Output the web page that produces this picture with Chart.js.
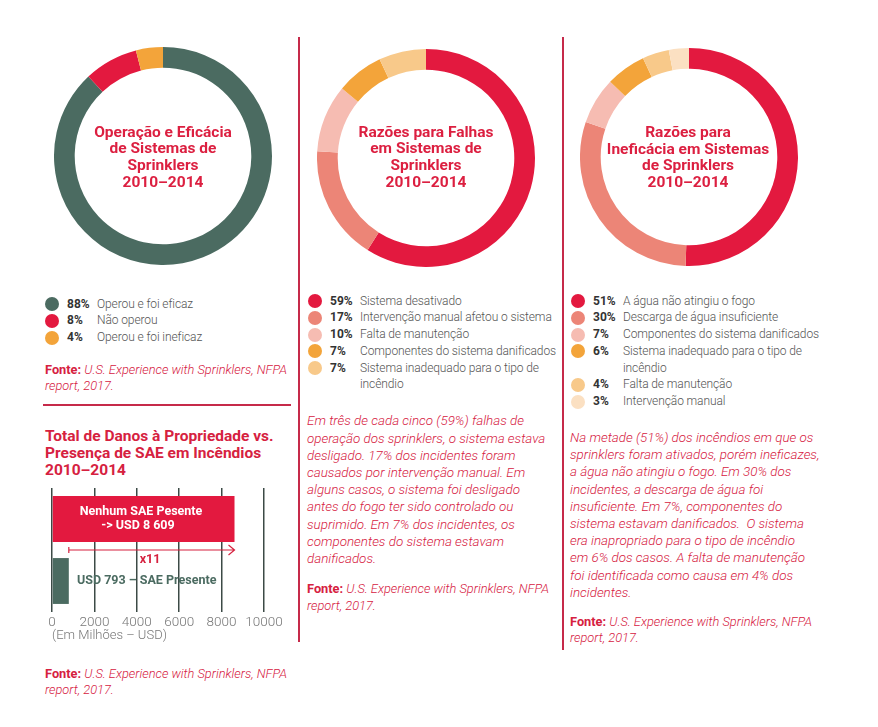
<!DOCTYPE html>
<html>
<head>
<meta charset="utf-8">
<script src="https://cdn.jsdelivr.net/npm/chart.js@4.4.1/dist/chart.umd.min.js"></script>
<style>
body{margin:0;background:#fff;width:878px;height:727px;position:relative;overflow:hidden;font-family:Roboto,"Liberation Sans",sans-serif;}
.t{position:absolute;white-space:nowrap}
.ctr{position:absolute;font-weight:700;color:#dc1f40;font-size:15.5px;line-height:16.7px;text-align:center;width:220px;}
.leg{position:absolute;font-size:12px;letter-spacing:-0.1px;color:#555;font-weight:300}
.row{display:flex;align-items:flex-start;line-height:16.8px}
.dot{width:14px;height:14px;border-radius:50%;margin-top:1.5px;flex:none}
.pct{font-weight:700;color:#333;width:30px;flex:none;letter-spacing:0}
.lab{max-width:205px;white-space:normal}
.para{position:absolute;color:#d6213f;font-style:italic;font-weight:300;font-size:13.4px;line-height:17.2px;white-space:nowrap}
.src{position:absolute;color:#d6213f;font-size:12.8px;line-height:16.5px;white-space:nowrap}
.src b{font-weight:700;font-style:normal}
.src i{font-weight:300}
.ln{position:absolute;background:#c62a4a}
.bl{position:absolute;white-space:nowrap;font-weight:700;font-size:12.5px;line-height:16px}
</style>
</head>
<body>

<div class="ln" style="left:298px;top:37px;width:1.5px;height:605px"></div>
<div class="ln" style="left:562px;top:37px;width:1.5px;height:613px"></div>
<div class="ln" style="left:43px;top:404px;width:248px;height:1.5px"></div>

<canvas id="d1" width="218" height="218" style="position:absolute;left:54px;top:47px"></canvas>
<canvas id="d2" width="218" height="218" style="position:absolute;left:317px;top:49px"></canvas>
<canvas id="d3" width="218" height="218" style="position:absolute;left:580px;top:48px"></canvas>

<div class="ctr" style="left:53px;top:123.6px">Operação e Eficácia<br>de Sistemas de<br>Sprinklers<br>2010–2014</div>
<div class="ctr" style="left:316px;top:123.6px">Razões para Falhas<br>em Sistemas de<br>Sprinklers<br>2010–2014</div>
<div class="ctr" style="left:578px;top:124px">Razões para<br>Ineficácia em Sistemas<br>de Sprinklers<br>2010–2014</div>

<div class="leg" id="l1" style="left:45px;top:295.5px"></div>
<div class="leg" id="l2" style="left:308px;top:292.5px"></div>
<div class="leg" id="l3" style="left:571px;top:292.5px"></div>

<div class="src" style="left:45px;top:361.5px"><b>Fonte:</b> <i>U.S. Experience with Sprinklers, NFPA<br>report, 2017.</i></div>
<div class="src" style="left:307px;top:581px"><b>Fonte:</b> <i>U.S. Experience with Sprinklers, NFPA<br>report, 2017.</i></div>
<div class="src" style="left:570px;top:613.5px"><b>Fonte:</b> <i>U.S. Experience with Sprinklers, NFPA<br>report, 2017.</i></div>
<div class="src" style="left:45px;top:665.5px"><b>Fonte:</b> <i>U.S. Experience with Sprinklers, NFPA<br>report, 2017.</i></div>

<div class="para" style="left:307px;top:412.4px">Em três de cada cinco (59%) falhas de<br>operação dos sprinklers, o sistema estava<br>desligado. 17% dos incidentes foram<br>causados por intervenção manual. Em<br>alguns casos, o sistema foi desligado<br>antes do fogo ter sido controlado ou<br>suprimido. Em 7% dos incidentes, os<br>componentes do sistema estavam<br>danificados.</div>
<div class="para" style="left:570px;top:429px">Na metade (51%) dos incêndios em que os<br>sprinklers foram ativados, porém ineficazes,<br>a água não atingiu o fogo. Em 30% dos<br>incidentes, a descarga de água foi<br>insuficiente. Em 7%, componentes do<br>sistema estavam danificados.&nbsp; O sistema<br>era inapropriado para o tipo de incêndio<br>em 6% dos casos. A falta de manutenção<br>foi identificada como causa em 4% dos<br>incidentes.</div>

<div class="t" style="left:45px;top:428px;color:#d6213f;font-weight:700;font-size:15.5px;line-height:17px">Total de Danos à Propriedade vs.<br>Presença de SAE em Incêndios<br>2010–2014</div>

<div style="position:absolute;left:30px;top:480px;width:259px;height:170px"><canvas id="bar" width="259" height="170"></canvas></div>

<div class="bl" style="left:141px;top:503px;transform:translateX(-50%);color:#fff">Nenhum SAE Pesente</div>
<div class="bl" style="left:138px;top:517px;transform:translateX(-50%);color:#fff">-&gt; USD 8 609</div>
<div class="bl" style="left:150px;top:551px;transform:translateX(-50%);color:#d6213f">x11</div>
<div class="bl" style="left:77px;top:572px;color:#4b6b61">USD 793 – SAE Presente</div>

<script>
// donut 1
var opLabels = ["Operou e foi eficaz", "Não operou", "Operou e foi ineficaz"];
var opValues = [88, 8, 4];
// donut 2
var failLabels = ["Sistema desativado", "Intervenção manual afetou o sistema", "Falta de manutenção", "Componentes do sistema danificados", "Sistema inadequado para o tipo de incêndio"];
var failValues = [59, 17, 10, 7, 7];
// donut 3
var ineffLabels = ["A água não atingiu o fogo", "Descarga de água insuficiente", "Componentes do sistema danificados", "Sistema inadequado para o tipo de incêndio", "Falta de manutenção", "Intervenção manual"];
var ineffValues = [51, 30, 7, 6, 4, 3];
// bar chart
var damageLabels = ["Nenhum SAE Presente", "SAE Presente"];
var damageValues = [8609, 793];
var damageTicks = [0, 2000, 4000, 6000, 8000, 10000];

var red = '#e3193f';
var opColors = ['#4b6b61', red, '#f3a43a'];
var failColors = [red, '#ec8577', '#f6bcb2', '#f3a43a', '#f8c98a'];
var ineffColors = [red, '#ec8577', '#f6bcb2', '#f3a43a', '#f8c98a', '#fbe0c2'];

function donut(id, labels, values, colors){
    new Chart(document.getElementById(id), {
        type: 'doughnut',
        data: {
            labels: labels,
            datasets: [{ data: values, backgroundColor: colors, borderWidth: 0, hoverOffset: 0 }]
        },
        options: {
            responsive: false,
            animation: false,
            cutout: '81%',
            events: [],
            plugins: { legend: { display: false }, tooltip: { enabled: false } }
        }
    });
}

function legend(id, labels, values, colors){
    var el = document.getElementById(id);
    var html = '';
    for (var i = 0; i < labels.length; i++) {
        html += '<div class="row"><span class="dot" style="background:' + colors[i] + '"></span>' +
            '<span style="width:8px;flex:none"></span>' +
            '<span class="pct">' + values[i] + '%</span><span class="lab">' + labels[i] + '</span></div>';
    }
    el.innerHTML = html;
}

donut('d1', opLabels, opValues, opColors);
donut('d2', failLabels, failValues, failColors);
donut('d3', ineffLabels, ineffValues, ineffColors);
legend('l1', opLabels, opValues, opColors);
legend('l2', failLabels, failValues, failColors);
legend('l3', ineffLabels, ineffValues, ineffColors);

var arrowPlugin = {
    id: 'arrow',
    afterDatasetsDraw: function(chart){
        var ctx = chart.ctx, xs = chart.scales.x;
        var bars = chart.getDatasetMeta(0).data;
        var y = ((bars[0].y + bars[0].height / 2) + (bars[1].y - bars[1].height / 2)) / 2;
        var x1 = xs.getPixelForValue(damageValues[1]);
        var x2 = xs.getPixelForValue(damageValues[0]);
        ctx.save();
        ctx.strokeStyle = '#d6213f';
        ctx.lineWidth = 1.2;
        ctx.beginPath();
        ctx.moveTo(x1, y); ctx.lineTo(x2, y);
        ctx.moveTo(x1, y - 3); ctx.lineTo(x1, y + 3);
        ctx.moveTo(x2 - 6, y - 5); ctx.lineTo(x2, y); ctx.lineTo(x2 - 6, y + 5);
        ctx.stroke();
        ctx.restore();
    }
};

new Chart(document.getElementById('bar'), {
    type: 'bar',
    data: {
        labels: damageLabels,
        datasets: [{
            data: damageValues,
            backgroundColor: [red, '#4b6b61'],
            barPercentage: 0.74,
            categoryPercentage: 1
        }]
    },
    options: {
        indexAxis: 'y',
        responsive: false,
        animation: false,
        events: [],
        layout: { padding: { left: 22, right: 25, top: 8, bottom: 0 } },
        scales: {
            x: {
                min: 0, max: 10000,
                afterBuildTicks: function(s){ s.ticks = damageTicks.map(function(v){ return { value: v }; }); },
                afterFit: function(s){ s.height = 38; },
                grid: { color: '#3c4a46', lineWidth: 1.5, drawTicks: false },
                border: { display: false },
                ticks: {
                    padding: 3,
                    maxRotation: 0,
                    minRotation: 0,
                    autoSkip: false,
                    color: '#777',
                    font: { family: 'Roboto', size: 13.5, weight: '300' },
                    callback: function(v){ return String(v); }
                },
                title: {
                    display: true, text: '(Em Milhões – USD)', align: 'start', color: '#777',
                    font: { family: 'Roboto', size: 13, weight: '300' },
                    padding: { top: 0, bottom: 6 }
                }
            },
            y: { display: false }
        },
        plugins: { legend: { display: false }, tooltip: { enabled: false } }
    },
    plugins: [arrowPlugin]
});
</script>
</body>
</html>
